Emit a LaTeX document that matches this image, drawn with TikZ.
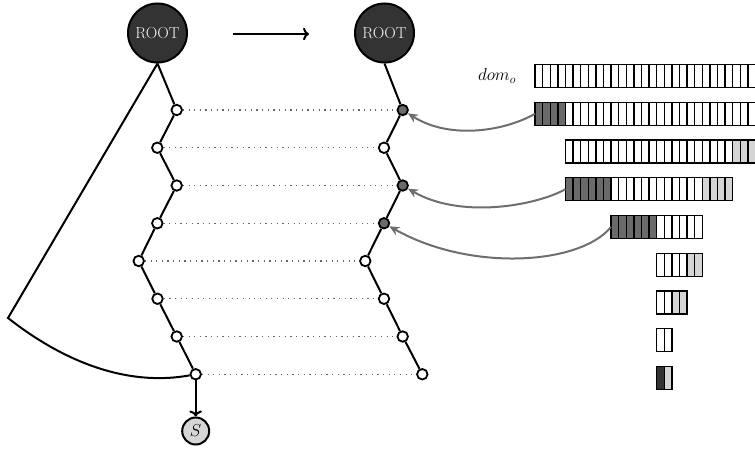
\documentclass[tikz,border=0pt]{standalone}
\usetikzlibrary{arrows.meta}
\definecolor{rootgray}{HTML}{333333}
\definecolor{midgray}{HTML}{6A6A6A}
\definecolor{lightg}{HTML}{D4D4D4}
\definecolor{arrowgray}{HTML}{6E6E6E}
\definecolor{roottext}{HTML}{F2F2F2}
\definecolor{sfill}{HTML}{D6D6D6}
\newcommand\barrun[4]{%
  \foreach \k in {1,...,#2}{%
    \filldraw[cell, fill=#3] ({535+7.6*(#1+\k-1)}, {#4-11.5}) rectangle ++(7.6,23);
  }%
}
\begin{document}
\begin{tikzpicture}[x=1pt,y=-1pt,
  rootnode/.style={circle, draw, line width=2pt, fill=rootgray, minimum size=59pt, inner sep=0pt, text=roottext, font=\fontsize{16}{18}\selectfont},
  dotnode/.style={circle, draw, line width=1.8pt, fill=white, minimum size=10.5pt, inner sep=0pt},
  dotfill/.style={dotnode, fill=midgray},
  snode/.style={circle, draw, line width=2pt, fill=sfill, minimum size=27pt, inner sep=0pt, font=\fontsize{17}{19}\selectfont},
  link/.style={line width=2pt},
  guide/.style={line width=1.2pt, black!60, dash pattern=on 1.2pt off 4.46pt},
  cell/.style={draw, line width=1.4pt},
  pick/.style={line width=2pt, arrowgray, -{Stealth[length=10pt,width=9pt]}},
]
\useasboundingbox (0,0) rectangle (755,450);

% left tree
\node[rootnode] (rootL) at (157.5,33) {ROOT};
\node[dotnode] (n1) at (176.7,110) {};
\node[dotnode] (n2) at (157.3,147.75) {};
\node[dotnode] (n3) at (176.7,185.5) {};
\node[dotnode] (n4) at (157.3,223.25) {};
\node[dotnode] (n5) at (138.7,261) {};
\node[dotnode] (n6) at (157.5,298.75) {};
\node[dotnode] (n7) at (176.7,336.5) {};
\node[dotnode] (n8) at (195.7,374.25) {};
\node[snode] (S) at (195.7,431) {$S$};
\coordinate (corner) at (8,318);

% right tree
\node[rootnode] (rootR) at (384.5,33) {ROOT};
\node[dotfill] (m1) at (402.7,110) {};
\node[dotnode] (m2) at (384,147.75) {};
\node[dotfill] (m3) at (402.7,185.5) {};
\node[dotfill] (m4) at (384,223.25) {};
\node[dotnode] (m5) at (365.3,261) {};
\node[dotnode] (m6) at (384,298.75) {};
\node[dotnode] (m7) at (402.7,336.5) {};
\node[dotnode] (m8) at (422.3,374.25) {};

% top arrow
\coordinate (as) at (233,34);
\coordinate (ae) at (309,34);
\draw[link,->] (as) -- (ae);

% chains
\draw[link] (rootL.south) -- (n1) -- (n2) -- (n3) -- (n4) -- (n5) -- (n6) -- (n7) -- (n8);
\draw[link] (rootL.south) -- (corner) .. controls (55,355) and (120,388) .. (n8);
\draw[link,->] (n8) -- (S);
\draw[link] (rootR.south) -- (m1) -- (m2) -- (m3) -- (m4) -- (m5) -- (m6) -- (m7) -- (m8);

% guides
\foreach \i in {1,...,8}{\draw[guide] (n\i) -- (m\i);}

% bars
\node[font=\fontsize{16.5}{18}\selectfont] (dom) at (497,76) {$dom_o$};
\barrun{0}{30}{white}{76}
\barrun{0}{4}{midgray}{113.75}\barrun{4}{26}{white}{113.75}
\barrun{4}{22}{white}{151.5}\barrun{26}{4}{lightg}{151.5}
\barrun{4}{6}{midgray}{189.25}\barrun{10}{12}{white}{189.25}\barrun{22}{4}{lightg}{189.25}
\barrun{10}{6}{midgray}{227}\barrun{16}{6}{white}{227}
\barrun{16}{4}{white}{264.75}\barrun{20}{2}{lightg}{264.75}
\barrun{16}{2}{white}{302.5}\barrun{18}{2}{lightg}{302.5}
\barrun{16}{2}{white}{340.25}
\barrun{16}{1}{rootgray}{378}\barrun{17}{1}{lightg}{378}

\coordinate (b1) at (535,113.75);
\coordinate (b3) at (565.4,189.25);
\coordinate (b4) at (611,227);
\draw[pick] (b1) .. controls (505,131) and (450,140) .. (m1);
\draw[pick] (b3) .. controls (535,206) and (460,219) .. (m3);
\draw[pick] (b4) .. controls (580,265) and (470,272) .. (m4);
\end{tikzpicture}
\end{document}
